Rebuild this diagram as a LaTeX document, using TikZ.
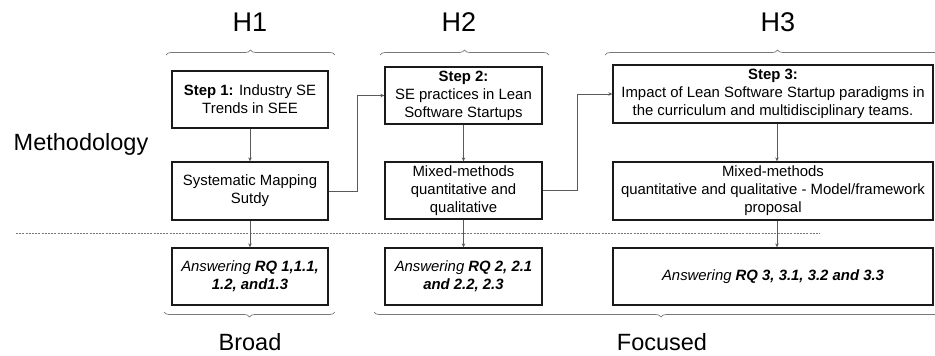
\documentclass[tikz,border=0pt]{standalone}
\usepackage{fontspec}
\setmainfont{Liberation Sans}
\usepackage{tikz}
\usetikzlibrary{arrows.meta,decorations.pathreplacing}
\definecolor{boxline}{HTML}{1A1A1A}
\definecolor{flowgrey}{HTML}{5A5A5A}
\definecolor{bracegrey}{HTML}{777777}

\tikzset{
  stepbox/.style={draw=boxline,line width=1.3pt,inner sep=0pt,align=center,
    font=\fontsize{14.9}{18}\selectfont},
  flow/.style={draw=flowgrey,line width=0.7pt,-{Stealth[length=4pt,width=3.5pt]}},
  hbrace/.style={draw=bracegrey,line width=0.7pt,decorate,
    decoration={brace,amplitude=5pt}},
  bigtext/.style={font=\fontsize{23.5}{28}\selectfont}
}

\begin{document}
\begin{tikzpicture}[x=1pt,y=-1pt]
\useasboundingbox (0,0) rectangle (935,356);

% row of steps
\node[stepbox,minimum width=156pt,minimum height=57pt] (s1) at (250,99.5)
  {\textbf{Step 1:} Industry SE\\Trends in SEE};
\node[stepbox,minimum width=157pt,minimum height=57pt] (s2) at (463.5,95.5)
  {\textbf{Step 2:}\\SE practices in Lean\\Software Startups};
\node[stepbox,minimum width=320pt,minimum height=58pt] (s3) at (773,94)
  {\textbf{Step 3:}\\Impact of Lean Software Startup paradigms in\\the curriculum and multidisciplinary teams.};

% methods
\node[stepbox,minimum width=156pt,minimum height=58pt] (m1) at (250,191)
  {Systematic Mapping\\Sutdy};
\node[stepbox,minimum width=157pt,minimum height=57pt] (m2) at (463.5,190.5)
  {Mixed-methods\\quantitative and\\qualitative};
\node[stepbox,minimum width=320pt,minimum height=58pt] (m3) at (773,191)
  {Mixed-methods\\quantitative and qualitative - Model/framework\\proposal};

% answers
\node[stepbox,minimum width=156pt,minimum height=57pt] (a1) at (250,276.5)
  {\textit{Answering} \textbf{\textit{RQ 1,1.1,}}\\\textbf{\textit{1.2, and1.3}}};
\node[stepbox,minimum width=157pt,minimum height=57pt] (a2) at (463.5,276.5)
  {\textit{Answering} \textbf{\textit{RQ 2, 2.1}}\\\textbf{\textit{and 2.2, 2.3}}};
\node[stepbox,minimum width=320pt,minimum height=57pt] (a3) at (773,276.5)
  {\textit{Answering} \textbf{\textit{RQ 3, 3.1, 3.2 and 3.3}}};

% labels
\node[font=\fontsize{27}{32}\selectfont] (h1) at (250,22) {H1};
\node[font=\fontsize{27}{32}\selectfont] (h2) at (459,22) {H2};
\node[font=\fontsize{27}{32}\selectfont] (h3) at (778,22) {H3};
\node[bigtext] (meth) at (81,144) {Methodology};
\node[bigtext] (broad) at (250,342) {Broad};
\node[bigtext] (focus) at (662,342) {Focused};

% braces
\coordinate (b1l) at (166,55); \coordinate (b1r) at (335,55);
\coordinate (b2l) at (380,55); \coordinate (b2r) at (549,55);
\coordinate (b3l) at (605,55); \coordinate (b3r) at (950,55);
\draw[hbrace] (b1l) -- (b1r);
\draw[hbrace] (b2l) -- (b2r);
\draw[hbrace] (b3l) -- (b3r);
\coordinate (d1l) at (164,312); \coordinate (d1r) at (335,312);
\coordinate (d2l) at (374,312); \coordinate (d2r) at (948,312);
\draw[hbrace] (d1r) -- (d1l);
\draw[hbrace] (d2r) -- (d2l);

% divider
\coordinate (divl) at (16,233); \coordinate (divr) at (820,233);
\draw[bracegrey,line width=0.6pt,dash pattern=on 2pt off 1.2pt] (divl) -- (divr);

% flow
\draw[flow] (s1) -- (m1);
\draw[flow] (m1) -- (a1);
\draw[flow] (s2) -- (m2);
\draw[flow] (m2) -- (a2);
\draw[flow] (s3.south -| 777,0) -- (m3.north -| 777,0);
\draw[flow] (m3.south -| 777,0) -- (a3.north -| 777,0);
\draw[flow] (m1.east) -- (357,191) |- (s2.west);
\draw[flow] (m2.east) -- (577,190.5) |- (s3.west);
\end{tikzpicture}
\end{document}
